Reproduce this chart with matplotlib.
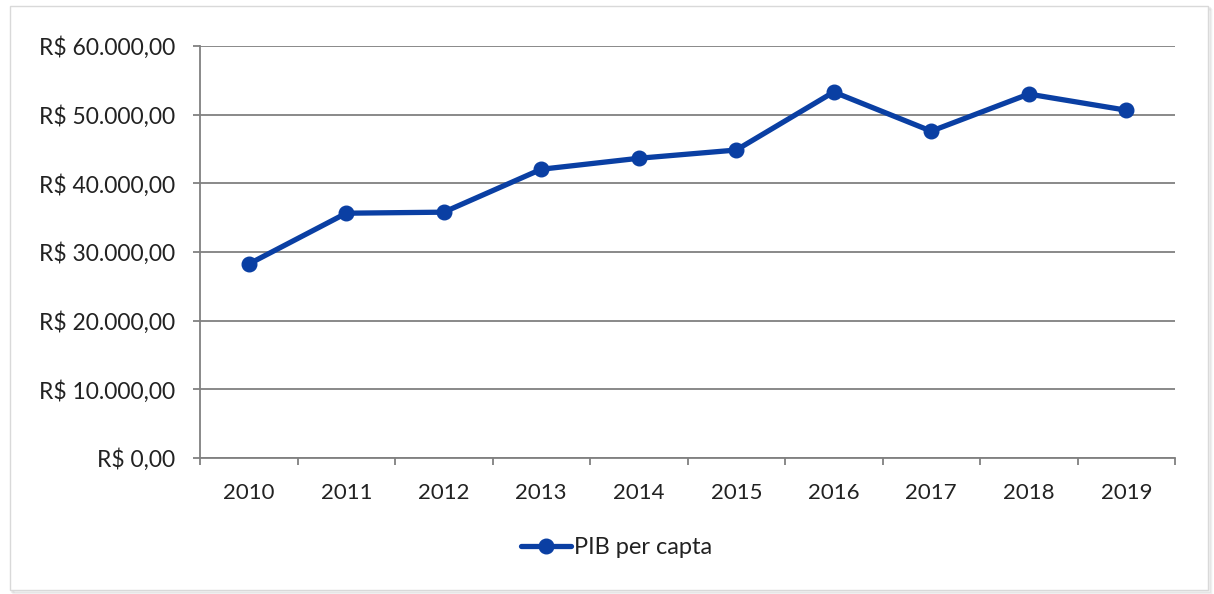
import matplotlib
matplotlib.use("Agg")
import matplotlib.pyplot as plt
from matplotlib.patches import Rectangle
from matplotlib.ticker import FixedLocator, FuncFormatter

years = ["2010", "2011", "2012", "2013", "2014", "2015", "2016", "2017", "2018", "2019"]
pib = [28250, 35650, 35800, 42050, 43650, 44850, 53300, 47600, 53000, 50650]
yticks = [0, 10000, 20000, 30000, 40000, 50000, 60000]
series_label = "PIB per capta"

plt.rcParams['font.family'] = ['Lato', 'DejaVu Sans']

fig = plt.figure(figsize=(12.14, 5.94), dpi=100)
W, H = 1214, 594

# chart border with soft shadow
for i, a in enumerate([0.06, 0.04, 0.02]):
    fig.patches.append(Rectangle(((10 + 2 + i) / W, (594 - 592 - i) / H), 1198 / W, 584 / H,
                                 transform=fig.transFigure, facecolor='none',
                                 edgecolor=(0, 0, 0, a), lw=1.5, zorder=-3))
fig.patches.append(Rectangle((10 / W, (594 - 590) / H), 1198 / W, 584 / H,
                             transform=fig.transFigure, facecolor='white',
                             edgecolor='#D9D9D9', lw=1, zorder=-2))

ax = fig.add_axes([200 / W, (594 - 458) / H, 975 / W, 412 / H])
ax.set_zorder(1)
ax.set_facecolor('none')
x = list(range(len(years)))
ax.plot(x, pib, color='#0A3FA3', lw=3.8, marker='o', markersize=10.5,
        label=series_label, zorder=3, solid_capstyle='round')

ax.set_xlim(-0.5, len(years) - 0.5)
ax.set_ylim(0, 60000)
ax.set_yticks(yticks)
ax.yaxis.set_major_formatter(FuncFormatter(
    lambda v, p: "R$ " + f"{int(v):,}".replace(",", ".") + ",00"))
ax.grid(axis='y', color='#808080', lw=1.3)
ax.set_axisbelow(True)

ax.set_xticks(x)
ax.set_xticklabels(years)
ax.xaxis.set_minor_locator(FixedLocator([i - 0.5 for i in range(len(years) + 1)]))
ax.tick_params(axis='x', which='major', length=0, pad=18, labelsize=16, colors='#222222')
ax.tick_params(axis='x', which='minor', length=5, width=1.3, color='#808080', direction='out')
ax.tick_params(axis='y', length=5, width=1.3, color='#808080', pad=13, labelsize=16.5,
               labelcolor='#222222')

for s in ['top', 'right']:
    ax.spines[s].set_visible(False)
for s in ['left', 'bottom']:
    ax.spines[s].set_color('#808080')
    ax.spines[s].set_linewidth(1.3)

leg = fig.legend(loc='center', bbox_to_anchor=(617 / W, (594 - 548) / H), frameon=False,
                 fontsize=17, handlelength=2.1, handletextpad=0.15)
for t in leg.get_texts():
    t.set_color('#222222')

fig.savefig("out.png", dpi=100)
